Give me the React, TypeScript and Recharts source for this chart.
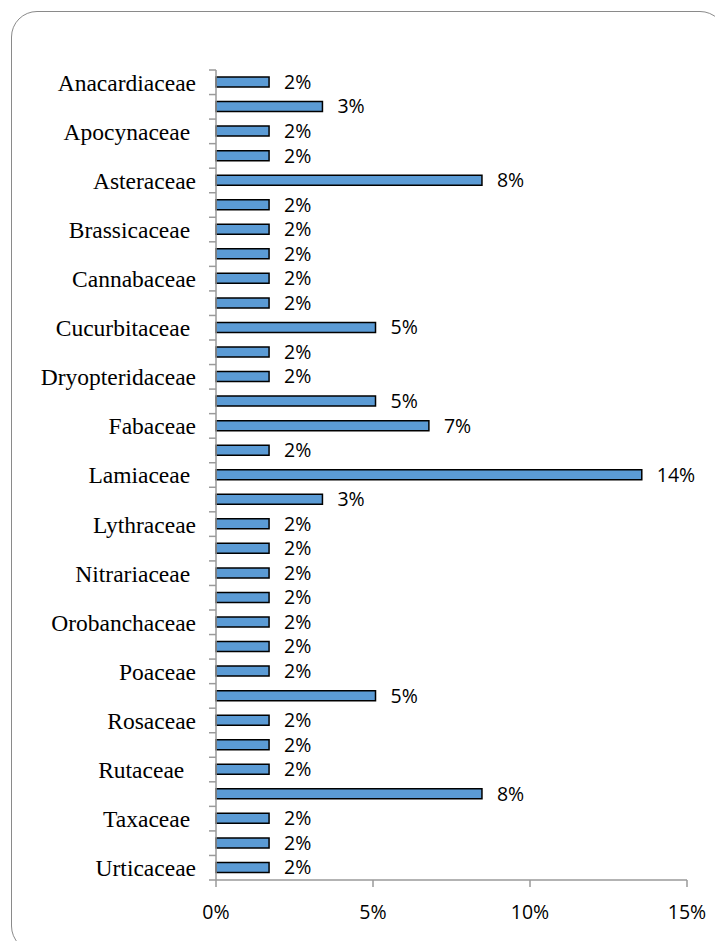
import { Bar, BarChart, LabelList, XAxis, YAxis } from 'recharts';

// Plant families (alphabetical), only every other one is labelled on the axis
const families = [
  'Anacardiaceae', 'Apiaceae', 'Apocynaceae ', 'Asparagaceae', 'Asteraceae',
  'Berberidaceae', 'Brassicaceae ', 'Cactaceae', 'Cannabaceae', 'Caryophyllaceae',
  'Cucurbitaceae ', 'Cupressaceae', 'Dryopteridaceae', 'Euphorbiaceae', 'Fabaceae',
  'Juglandaceae', 'Lamiaceae ', 'Liliaceae', 'Lythraceae', 'Malvaceae',
  'Nitrariaceae ', 'Oleaceae', 'Orobanchaceae', 'Plantaginaceae', 'Poaceae',
  'Polygonaceae', 'Rosaceae', 'Rubiaceae', 'Rutaceae  ', 'Solanaceae',
  'Taxaceae ', 'Thymelaeaceae', 'Urticaceae',
];

// share of species per family, in percent
const shares = [
  1.69, 3.39, 1.69, 1.69, 8.47,
  1.69, 1.69, 1.69, 1.69, 1.69,
  5.08, 1.69, 1.69, 5.08, 6.78,
  1.69, 13.56, 3.39, 1.69, 1.69,
  1.69, 1.69, 1.69, 1.69, 1.69,
  5.08, 1.69, 1.69, 1.69, 8.47,
  1.69, 1.69, 1.69,
];

const xTicks = [0, 5, 10, 15];

const data = families.map((name, i) => ({ name, share: shares[i] }));

const WIDTH = 715;
const HEIGHT = 941;
const TOP = 70;
const X_AXIS_H = 61;
const Y_AXIS_W = 216;
const TICK = 7;
const TICK_GAP = 13;
const band = (HEIGHT - X_AXIS_H - TOP) / families.length;

const axisGrey = '#9a9a9a';
const numFont = "'Open Sans', sans-serif";

// category tick: label on every second row, tick marks on the band edges
const FamilyTick = (props: any) => {
  const { x, y, index, payload } = props;
  const axisX = x + TICK + TICK_GAP;
  const last = index === families.length - 1;
  return (
    <g>
      <line x1={axisX - TICK} x2={axisX} y1={y - band / 2} y2={y - band / 2} stroke={axisGrey} strokeWidth={1.5} />
      {last ? (
        <line x1={axisX - TICK} x2={axisX} y1={y + band / 2} y2={y + band / 2} stroke={axisGrey} strokeWidth={1.5} />
      ) : null}
      {index % 2 === 0 ? (
        <text
          x={x}
          y={y}
          dy="0.36em"
          textAnchor="end"
          fill="#000"
          fontSize={23.5}
          fontFamily="'Liberation Serif', 'Times New Roman', serif"
          xmlSpace="preserve"
          style={{ whiteSpace: 'pre' }}
        >
          {payload.value}
        </text>
      ) : null}
    </g>
  );
};

export default function App() {
  return (
    <div style={{ position: 'absolute', left: 0, top: 0, width: WIDTH, height: HEIGHT, overflow: 'hidden', background: '#fff' }}>
      <div
        style={{
          position: 'absolute',
          left: 11,
          top: 11,
          width: WIDTH,
          height: HEIGHT,
          border: '1.5px solid #8a8a8a',
          borderRadius: 26,
          boxSizing: 'border-box',
        }}
      />
      <div style={{ position: 'absolute', left: 0, top: 0 }}>
        <BarChart
          width={WIDTH}
          height={HEIGHT}
          data={data}
          layout="vertical"
          margin={{ top: TOP, right: 28, bottom: 0, left: 0 }}
        >
          <XAxis
            type="number"
            domain={[0, 15]}
            ticks={xTicks}
            tickFormatter={(v: number) => `${v}%`}
            height={X_AXIS_H}
            axisLine={{ stroke: axisGrey, strokeWidth: 1.5 }}
            tickLine={{ stroke: axisGrey, strokeWidth: 1.5 }}
            tickSize={7}
            tickMargin={18}
            tick={{ fill: '#000', fontSize: 19.5, fontFamily: numFont }}
          />
          <YAxis
            type="category"
            dataKey="name"
            width={Y_AXIS_W}
            interval={0}
            axisLine={{ stroke: axisGrey, strokeWidth: 1.5 }}
            tickLine={false}
            tickSize={TICK}
            tickMargin={TICK_GAP}
            tick={<FamilyTick />}
          />
          <Bar dataKey="share" barSize={10} fill="#5B9BD5" stroke="#000" strokeWidth={1.5} isAnimationActive={false}>
            <LabelList
              dataKey="share"
              position="right"
              offset={15}
              formatter={(v: any) => `${Math.round(Number(v))}%`}
              fill="#000"
              fontSize={19.5}
              fontFamily={numFont}
            />
          </Bar>
        </BarChart>
      </div>
    </div>
  );
}
